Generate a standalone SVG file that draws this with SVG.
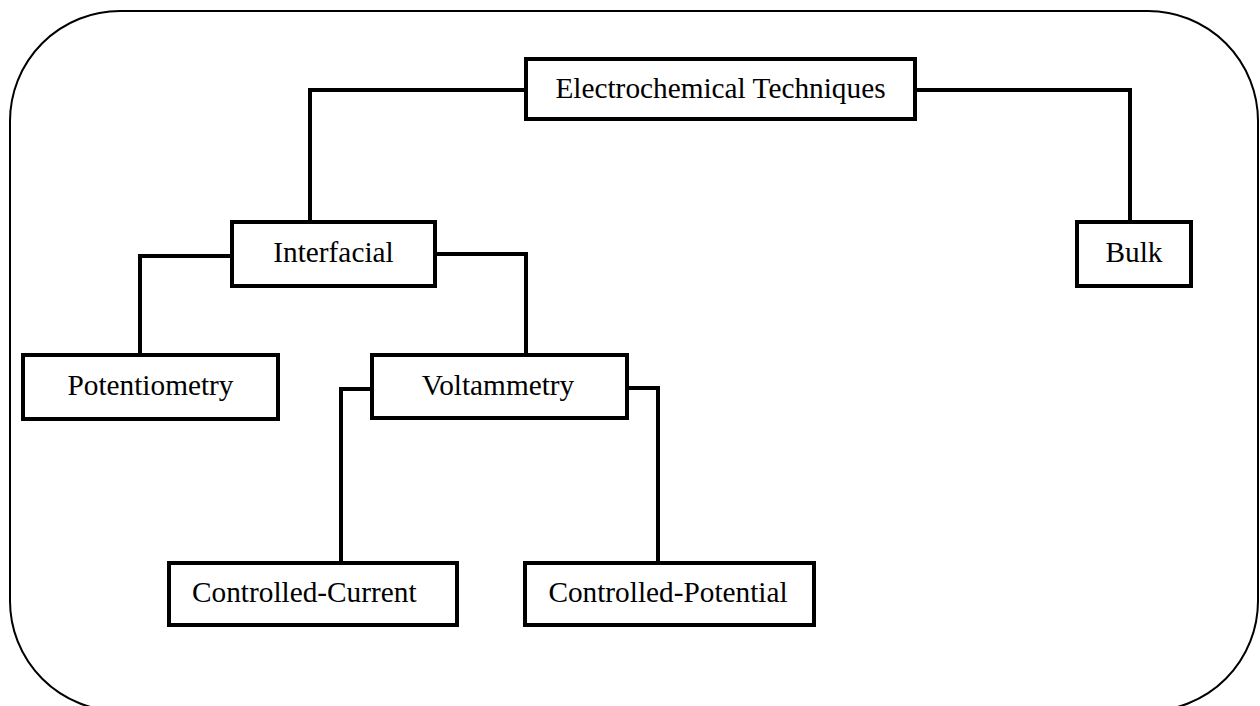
<svg xmlns="http://www.w3.org/2000/svg" width="1260" height="706" viewBox="0 0 1260 706">
<style>
.box{fill:#fff;stroke:#000;stroke-width:4}
.lbl{font-family:"Liberation Serif","Times New Roman",serif;font-size:29.3px;fill:#000;text-anchor:middle}
.conn{fill:none;stroke:#000;stroke-width:4;stroke-linejoin:miter}
</style>
<rect width="1260" height="706" fill="#fff"/>
<rect id="frame" x="10" y="11" width="1248" height="700" rx="110" ry="110" fill="none" stroke="#000" stroke-width="2"/>
<g id="connectors">
<path class="conn" d="M526,90 H310 V222"/>
<path class="conn" d="M915,90 H1130 V222"/>
<path class="conn" d="M232,256 H140 V355"/>
<path class="conn" d="M435,254 H526 V355"/>
<path class="conn" d="M372,389 H341 V563"/>
<path class="conn" d="M627,388 H658 V563"/>
</g>
<g id="electrochemical">
<rect class="box" x="526" y="59" width="389" height="60"/>
<text class="lbl" x="720.5" y="98">Electrochemical Techniques</text>
</g>
<g id="interfacial">
<rect class="box" x="232" y="222" width="203" height="64"/>
<text class="lbl" x="333.5" y="262">Interfacial</text>
</g>
<g id="bulk">
<rect class="box" x="1077" y="222" width="114" height="64"/>
<text class="lbl" x="1134" y="262">Bulk</text>
</g>
<g id="potentiometry">
<rect class="box" x="23" y="355" width="255" height="64"/>
<text class="lbl" x="150.5" y="395">Potentiometry</text>
</g>
<g id="voltammetry">
<rect class="box" x="372" y="355" width="255" height="63"/>
<text class="lbl" x="498" y="395">Voltammetry</text>
</g>
<g id="controlled-current">
<rect class="box" x="169" y="563" width="288" height="62"/>
<text class="lbl" x="192" y="602" style="text-anchor:start">Controlled-Current</text>
</g>
<g id="controlled-potential">
<rect class="box" x="525" y="563" width="289" height="62"/>
<text class="lbl" x="668" y="602">Controlled-Potential</text>
</g>
</svg>
